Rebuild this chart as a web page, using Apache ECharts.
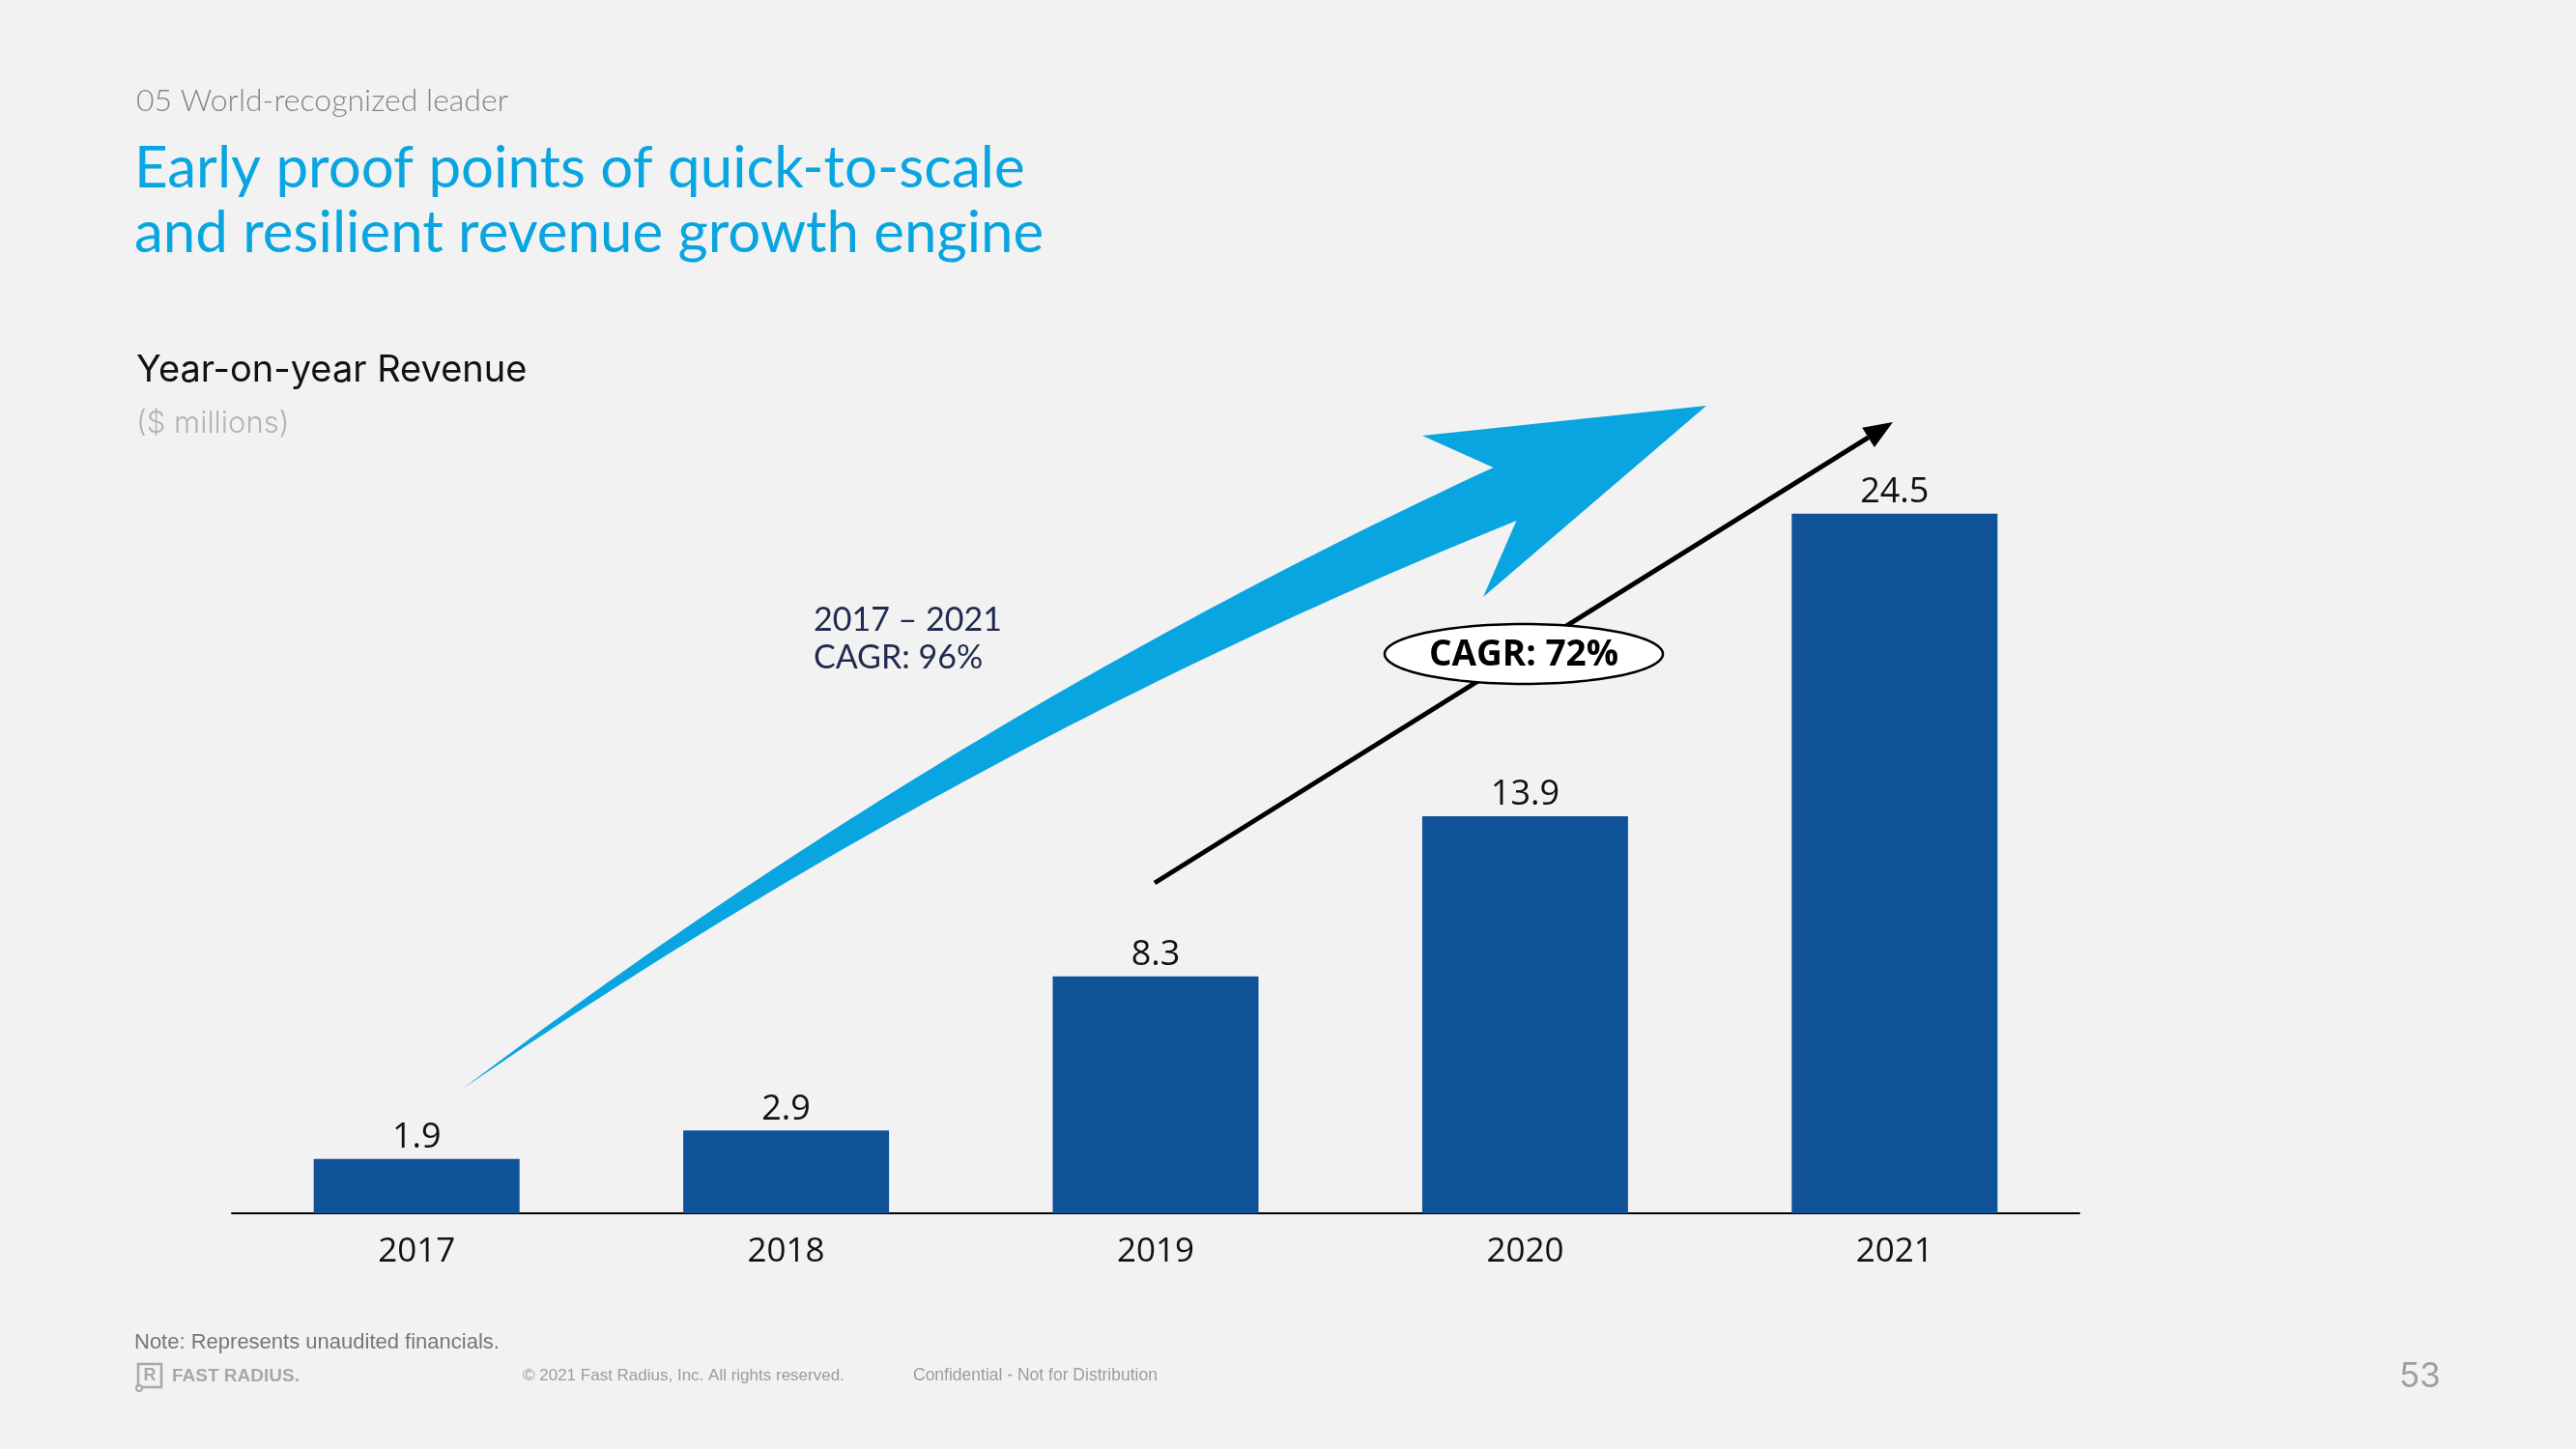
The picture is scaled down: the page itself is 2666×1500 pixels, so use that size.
<!DOCTYPE html>
<html>
<head>
<meta charset="utf-8">
<script src="https://cdn.jsdelivr.net/npm/echarts@6/dist/echarts.min.js"></script>
<style>
  html, body { margin: 0; padding: 0; background: #F2F2F2; }
  #chart { width: 2666px; height: 1500px; }
</style>
</head>
<body>
<div id="chart"></div>
<script>
// ---- data ----
const categories = ['2017', '2018', '2019', '2020', '2021'];
const revenue = [1.9, 2.9, 8.3, 13.9, 24.5];
const sectionLabel = '05 World-recognized leader';
const titleLines = ['Early proof points of quick-to-scale', 'and resilient revenue growth engine'];
const chartTitle = 'Year-on-year Revenue';
const unitLabel = '($ millions)';
const cagrAllLines = ['2017 – 2021', 'CAGR: 96%'];
const cagrRecent = 'CAGR: 72%';
const noteText = 'Note: Represents unaudited financials.';
const copyrightText = '© 2021 Fast Radius, Inc. All rights reserved.';
const confidentialText = 'Confidential - Not for Distribution';
const pageNumber = '53';

// ---- styling ----
const BAR = '#0F5298';
const CYAN = '#09A5E0';

const chart = echarts.init(document.getElementById('chart'), null, { renderer: 'canvas' });

// cyan sweeping arrow (decoration): tapered shaft along a quadratic curve + head
const P0 = [479, 1127], PC = [995, 755], P2 = [1557.5, 511.5];
const maxW = 60;
const upper = [], lower = [];
const N = 60;
for (let i = 0; i <= N; i++) {
  const t = i / N, mt = 1 - t;
  const x = mt*mt*P0[0] + 2*mt*t*PC[0] + t*t*P2[0];
  const y = mt*mt*P0[1] + 2*mt*t*PC[1] + t*t*P2[1];
  let tx = 2*mt*(PC[0]-P0[0]) + 2*t*(P2[0]-PC[0]);
  let ty = 2*mt*(PC[1]-P0[1]) + 2*t*(P2[1]-PC[1]);
  const l = Math.sqrt(tx*tx + ty*ty); tx /= l; ty /= l;
  const nx = -ty, ny = tx;
  const hw = maxW * t / 2;
  upper.push([x - nx*hw, y - ny*hw]);
  lower.push([x + nx*hw, y + ny*hw]);
}
const cyanArrow = upper.concat([[1472, 451], [1766, 420], [1535, 618]], lower.slice().reverse());

// black straight arrow (decoration)
const bStart = [1195, 914], bTip = [1959, 437];
const dx = bTip[0]-bStart[0], dy = bTip[1]-bStart[1];
const len = Math.sqrt(dx*dx+dy*dy), ux = dx/len, uy = dy/len;
const headLen = 30, headHalf = 12;
const base = [bTip[0]-ux*headLen, bTip[1]-uy*headLen];
const headPts = [bTip, [base[0]-uy*headHalf, base[1]+ux*headHalf], [base[0]+uy*headHalf, base[1]-ux*headHalf]];

// ellipse
const ell = { cx: 1577, cy: 677, rx: 144, ry: 31 };
const ellPts = [];
for (let i = 0; i < 120; i++) {
  const a = i / 120 * Math.PI * 2;
  ellPts.push([ell.cx + ell.rx*Math.cos(a), ell.cy + ell.ry*Math.sin(a)]);
}

function txt(x, y, text, font, fill, align) {
  return {
    type: 'text', z: 10,
    style: { x: x, y: y, text: text, font: font, fill: fill,
      align: align || 'left', textAlign: align || 'left',
      verticalAlign: 'middle', textVerticalAlign: 'middle' }
  };
}

const option = {
  backgroundColor: '#F2F2F2',
  animation: false,
  grid: { left: 240, right: 514, top: 517, bottom: 244, containLabel: false },
  xAxis: {
    type: 'category',
    data: categories,
    axisLine: { show: true, lineStyle: { color: '#000', width: 2 } },
    axisTick: { show: false },
    axisLabel: { margin: 23, fontFamily: 'Open Sans', fontSize: 35, color: '#111' },
    splitLine: { show: false }
  },
  yAxis: { type: 'value', min: 0, max: 25, show: false, splitLine: { show: false } },
  series: [{
    type: 'bar',
    data: revenue,
    barWidth: 213,
    itemStyle: { color: BAR },
    label: {
      show: true, position: 'top', distance: 4,
      fontFamily: 'Open Sans', fontSize: 36, color: '#111',
      formatter: p => p.value.toFixed(1)
    }
  }],
  graphic: [
    txt(141, 105, sectionLabel, '300 32px Lato', '#858585'),
    txt(139, 175, titleLines[0], '400 60px Lato', CYAN),
    txt(139, 242, titleLines[1], '400 60px Lato', CYAN),
    txt(141, 384, chartTitle, '400 38px Inter', '#111'),
    txt(141, 439, unitLabel, '300 31px Inter', '#b3b3b3'),
    txt(842, 642, cagrAllLines[0], '400 34px Lato', '#1F2A4E'),
    txt(842, 681, cagrAllLines[1], '400 34px Lato', '#1F2A4E'),
    { type: 'polygon', z: 5, shape: { points: cyanArrow }, style: { fill: CYAN } },
    { type: 'line', z: 5, shape: { x1: bStart[0], y1: bStart[1], x2: base[0], y2: base[1] },
      style: { stroke: '#000', lineWidth: 5 } },
    { type: 'polygon', z: 5, shape: { points: headPts }, style: { fill: '#000' } },
    { type: 'polygon', z: 6, shape: { points: ellPts }, style: { fill: '#fff', stroke: '#000', lineWidth: 2.5 } },
    txt(ell.cx, ell.cy + 1, cagrRecent, '700 37px "Open Sans"', '#000', 'center'),
    txt(139, 1390, noteText, '400 22px "Liberation Sans"', '#777'),
    { type: 'rect', z: 10, shape: { x: 143, y: 1412, width: 24, height: 24 },
      style: { fill: 'none', stroke: '#a8a8a8', lineWidth: 2.5 } },
    txt(155, 1424, 'R', '700 18px "Liberation Sans"', '#a8a8a8', 'center'),
    { type: 'circle', z: 10, shape: { cx: 144, cy: 1437, r: 3 }, style: { fill: '#F2F2F2', stroke: '#a8a8a8', lineWidth: 2 } },
    txt(178, 1425, 'FAST RADIUS.', '700 19px "Liberation Sans"', '#a8a8a8'),
    txt(541, 1424, copyrightText, '400 17px "Liberation Sans"', '#9c9c9c'),
    txt(945, 1424, confidentialText, '400 17.5px "Liberation Sans"', '#9c9c9c'),
    txt(2483, 1425, pageNumber, '400 35px Inter', '#a0a0a0')
  ]
};
chart.setOption(option);
</script>
</body>
</html>
